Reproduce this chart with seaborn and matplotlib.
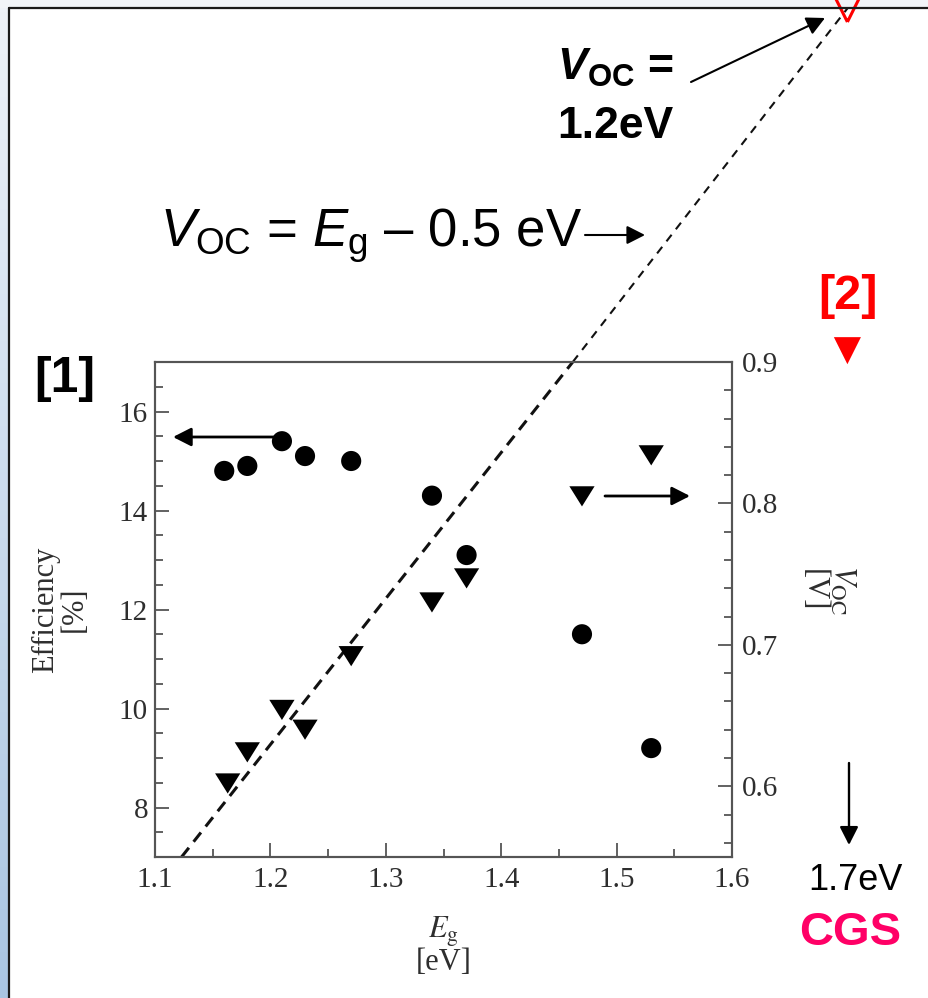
import numpy as np
import matplotlib
matplotlib.use("Agg")
import matplotlib.pyplot as plt
import seaborn as sns
from matplotlib.ticker import MultipleLocator, FormatStrFormatter
from matplotlib.patches import FancyArrowPatch, Rectangle
from matplotlib.path import Path
from matplotlib.colors import LinearSegmentedColormap

sns.set_style("ticks")
plt.rcParams["font.family"] = ["Liberation Serif", "DejaVu Serif"]
plt.rcParams["text.color"] = "black"
plt.rcParams["mathtext.fontset"] = "custom"
plt.rcParams["mathtext.rm"] = "Liberation Sans"
plt.rcParams["mathtext.it"] = "Liberation Sans:italic"
plt.rcParams["mathtext.bf"] = "Liberation Sans:bold"
plt.rcParams["mathtext.bfit"] = "Liberation Sans:bold:italic"
plt.rcParams["lines.scale_dashes"] = False

# dados
eg_eff = [1.16, 1.18, 1.21, 1.23, 1.27, 1.34, 1.37, 1.47, 1.53]
eficiencia = [14.8, 14.9, 15.4, 15.1, 15.0, 14.3, 13.1, 11.5, 9.2]
eg_voc = [1.163, 1.18, 1.21, 1.23, 1.27, 1.34, 1.37, 1.47, 1.53]
voc = [0.602, 0.624, 0.654, 0.640, 0.692, 0.730, 0.747, 0.805, 0.834]

# CGS (1.7 eV)
eg_cgs = [1.70]
voc_cgs = [0.908]
voc_ideal = [1.15]

# reta Voc = Eg - 0.5 eV (como desenhada)
linha_eg = [1.123, 1.462, 1.70]
linha_voc = [0.55, 0.90, 1.15]

W, H = 929, 998
fig = plt.figure(figsize=(W / 100, H / 100), dpi=100)
fig.patch.set_facecolor("white")


def fp(x, y):
    # pixels (origem no topo) -> fração da figura
    return (x / W, 1 - y / H)


# faixa de fundo (slide)
fig.add_artist(Rectangle((0, 1 - 8 / H), 1, 8 / H, transform=fig.transFigure,
                         color="#f1f4f8", zorder=-5))
bg = fig.add_axes([0, 0, 9 / W, 1 - 8 / H], zorder=-5)
grad = np.linspace(0, 1, 256).reshape(-1, 1)
cmap_bg = LinearSegmentedColormap.from_list("bg", ["#eef2f8", "#a9c5e2"])
bg.imshow(grad, aspect="auto", cmap=cmap_bg, extent=[0, 1, 1, 0])
bg.set_axis_off()

# moldura
fig.add_artist(plt.Line2D([9 / W, 1], [1 - 8 / H, 1 - 8 / H], transform=fig.transFigure,
                          color="#1a1a1a", lw=1.6))
fig.add_artist(plt.Line2D([9 / W, 9 / W], [0, 1 - 8 / H], transform=fig.transFigure,
                          color="#1a1a1a", lw=1.6))

l, r, t, b = 155, 732, 362, 857
ax = fig.add_axes([l / W, 1 - b / H, (r - l) / W, (b - t) / H])
ax2 = ax.twinx()

cinza = "#2e2e2e"

sns.scatterplot(x=eg_eff, y=eficiencia, ax=ax, marker="o", s=210,
                color="black", edgecolor="none", zorder=3)

tri = Path([(-1, 0.8), (1, 0.8), (0, -0.8), (-1, 0.8)],
           [Path.MOVETO, Path.LINETO, Path.LINETO, Path.CLOSEPOLY])
sns.scatterplot(x=eg_voc, y=voc, ax=ax2, marker=tri, s=330,
                color="black", edgecolor="none", zorder=3)

sns.lineplot(x=linha_eg[:2], y=linha_voc[:2], ax=ax2, color="#111111", lw=2.2,
             dashes=False, linestyle=(0, (8.5, 5.5)), clip_on=False, zorder=2)
sns.lineplot(x=linha_eg[1:], y=linha_voc[1:], ax=ax2, color="#111111", lw=1.5,
             dashes=False, linestyle=(0, (6, 5)), clip_on=False, zorder=2)

sns.scatterplot(x=eg_cgs, y=voc_cgs, ax=ax2, marker="v", s=380,
                color="#ff0000", edgecolor="none", clip_on=False)
sns.scatterplot(x=eg_cgs, y=voc_ideal, ax=ax2, marker="v", s=380,
                facecolor="none", edgecolor="#ff0000", linewidth=2.2, clip_on=False)

ax.set_xlim(1.1, 1.6)
ax.set_ylim(7, 17)
ax2.set_ylim(0.55, 0.9)

ax.xaxis.set_major_locator(MultipleLocator(0.1))
ax.xaxis.set_minor_locator(MultipleLocator(0.05))
ax.yaxis.set_major_locator(MultipleLocator(2))
ax.yaxis.set_minor_locator(MultipleLocator(0.5))
ax2.yaxis.set_major_locator(MultipleLocator(0.1))
ax2.yaxis.set_minor_locator(MultipleLocator(0.02))
ax.set_yticks([8, 10, 12, 14, 16])
ax2.set_yticks([0.6, 0.7, 0.8, 0.9])
ax2.yaxis.set_major_formatter(FormatStrFormatter("%.1f"))

for a in (ax, ax2):
    for s in a.spines.values():
        s.set_color("#555555")
        s.set_linewidth(1.5)

ax.tick_params(which="both", direction="in", top=False, right=False,
               colors="#555555", labelcolor=cinza, labelsize=21, width=1.3)
ax.tick_params(which="major", length=10)
ax.tick_params(which="minor", length=6)
ax.tick_params(axis="x", pad=7)
ax.tick_params(axis="y", pad=5)
ax2.tick_params(which="both", direction="in", left=False, right=True,
                colors="#555555", labelcolor=cinza, labelsize=21, width=1.3, pad=7)
ax2.tick_params(which="major", length=10)
ax2.tick_params(which="minor", length=6)

ax.set_xlabel(r"$E_{\mathrm{g}}$" + "\n[eV]", fontsize=22, color=cinza,
              math_fontfamily="stix", linespacing=0.95, va="center")
ax.xaxis.set_label_coords(0.5, -0.18)
ax.set_ylabel("Efficiency\n[%]", fontsize=22, color=cinza, linespacing=0.95,
              va="center", ha="center")
ax.yaxis.set_label_coords(-0.165, 0.5)
ax2.set_ylabel(r"$V_{\mathrm{OC}}$" + "\n[V]", fontsize=22, color=cinza,
               math_fontfamily="stix", rotation=270, linespacing=0.95,
               va="center", ha="center")
ax2.yaxis.set_label_coords(1.166, 0.539)

# anotações
sans = "Liberation Sans"
fig.text(*fp(160, 247), r"$V_{\mathrm{OC}}$ = $E_{\mathrm{g}}$ – 0.5 eV",
         family=sans, fontsize=38, va="baseline", ha="left", color="black")
fig.text(*fp(615, 80), r"$\mathbfit{V}_{\mathbf{OC}}$ =", family=sans,
         weight="bold", fontsize=32, va="baseline", ha="center", color="black")
fig.text(*fp(615, 138), "1.2eV", family=sans, weight="bold", fontsize=32,
         va="baseline", ha="center", color="black")
fig.text(*fp(65, 379), "[1]", family=sans, weight="bold", fontsize=36,
         va="center", ha="center", color="black")
fig.text(*fp(848, 296), "[2]", family=sans, weight="bold", fontsize=35,
         va="center", ha="center", color="#ff0000")
fig.text(*fp(855, 890), "1.7eV", family=sans, fontsize=26, va="baseline",
         ha="center", color="black")
fig.text(*fp(850, 945), "CGS", family=sans, weight="bold", fontsize=34,
         va="baseline", ha="center", color="#ff0066")


def seta(x0, y0, x1, y1, lw=2.0):
    fig.add_artist(FancyArrowPatch(fp(x0, y0), fp(x1, y1), transform=fig.transFigure,
                                   arrowstyle="-|>,head_length=0.55,head_width=0.28",
                                   mutation_scale=20, lw=lw, color="black",
                                   shrinkA=0, shrinkB=0, zorder=5))


seta(275, 437, 173, 437, 2.0)
seta(605, 496, 690, 496, 2.0)
seta(691, 82, 825, 18, 1.5)
seta(585, 235, 645, 235, 1.5)
seta(849, 763, 849, 845, 1.7)

fig.savefig("out.png", dpi=100)
